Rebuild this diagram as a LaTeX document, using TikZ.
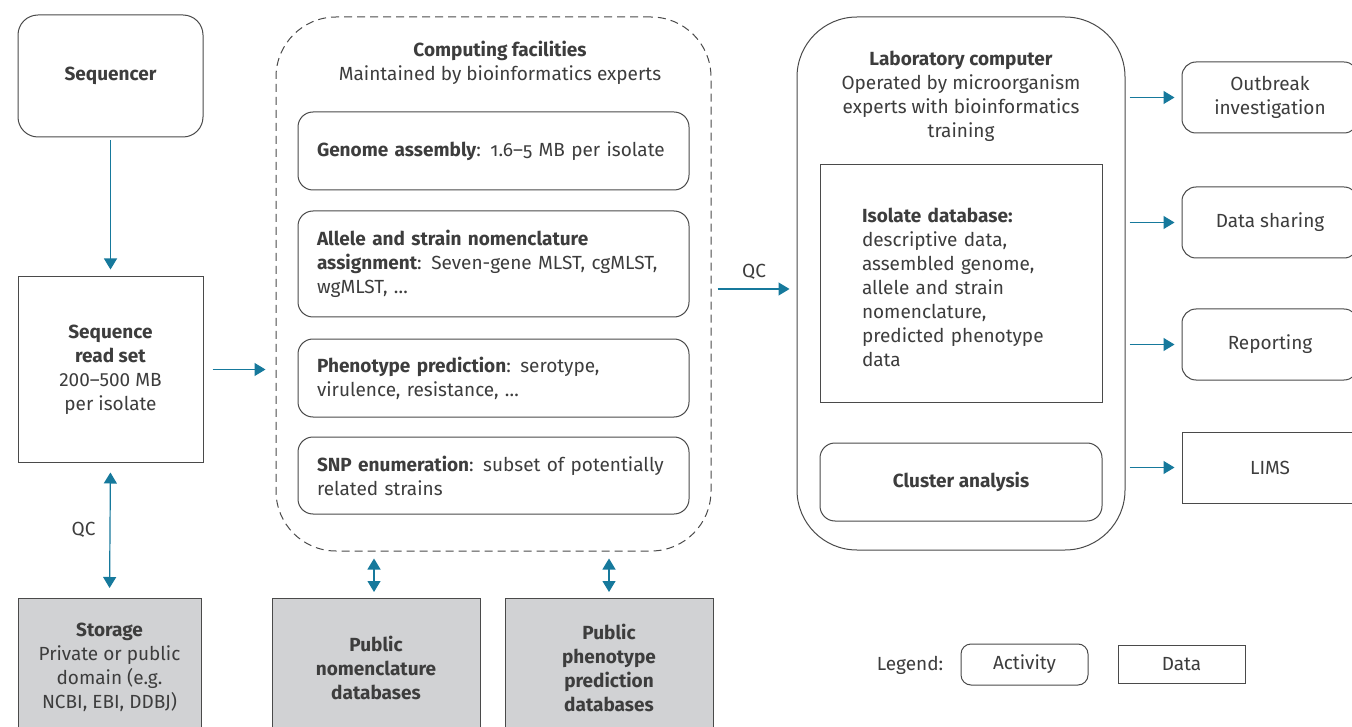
\documentclass[tikz,border=0pt]{standalone}
\usepackage{fontspec}
\setmainfont{Fira Sans}
\usetikzlibrary{arrows.meta}
\definecolor{txt}{HTML}{3D3D3D}
\definecolor{edge}{HTML}{4A4A4A}
\definecolor{arrowc}{HTML}{16799C}
\definecolor{pubgray}{HTML}{D1D2D4}
\tikzset{
  box/.style={draw=edge, line width=1pt, inner sep=0pt, align=center, text=txt},
  act/.style={box, rounded corners=15pt},
  dat/.style={box},
  pub/.style={box, fill=pubgray, font=\fontsize{19}{24}\selectfont\bfseries, minimum height=138pt, anchor=north},
  inner/.style={act, minimum width=391pt, minimum height=78pt, text width=353pt, align=left, inner xsep=19pt},
  outbox/.style={minimum width=176pt, minimum height=71pt},
  arr/.style={draw=arrowc, line width=1.2pt, -{Triangle[width=13pt,length=11pt]}},
  darr/.style={draw=arrowc, line width=1.2pt, {Triangle[width=13pt,length=11pt]}-{Triangle[width=13pt,length=11pt]}},
  lbl/.style={text=txt, inner sep=0pt, align=center}
}
\begin{document}
\begin{tikzpicture}[x=1pt,y=-1pt, font=\fontsize{19}{24}\selectfont]
\clip (0,0) rectangle (1352,727);
\fill[white] (0,0) rectangle (1352,727);

% left column
\node[act, rounded corners=20pt, minimum width=185pt, minimum height=122pt] (seq) at (110.5,76) {\textbf{Sequencer}};
\node[dat, minimum width=185pt, minimum height=185pt] (reads) at (110.5,369.5) {\textbf{Sequence}\\\textbf{read set}\\200–500 MB\\per isolate};
\node[pub, minimum width=183pt] (storage) at (109.5,598) {Storage\\\mdseries Private or public\\\mdseries domain (e.g.\\\mdseries NCBI, EBI, DDBJ)};

% computing facilities
\node[draw=edge, line width=1pt, dash pattern=on 8pt off 5pt, rounded corners=60pt, minimum width=435pt, minimum height=534pt, inner sep=0pt] (comp) at (493.5,284) {};
\node[lbl] (comptitle) at (500,63) {\textbf{Computing facilities}\\Maintained by bioinformatics experts};
\node[inner] (genome) at (493.5,151) {\textbf{Genome assembly}: {\addfontfeature{RawFeature=+onum}1.6–5} MB per isolate};
\node[inner, minimum height=106pt] (allele) at (493.5,264) {\textbf{Allele and strain nomenclature}\\\textbf{assignment}: Seven-gene MLST, cgMLST,\\wgMLST, …};
\node[inner] (pheno) at (493.5,378) {\textbf{Phenotype prediction}: serotype,\\virulence, resistance, …};
\node[inner, minimum height=77pt] (snp) at (493.5,475.5) {\textbf{SNP enumeration}: subset of potentially\\related strains};

\node[pub, minimum width=208pt] (pubnom) at (376,598) {Public\\nomenclature\\databases};
\node[pub, minimum width=208pt] (pubphe) at (609,598) {Public\\phenotype\\prediction\\databases};

% laboratory computer
\node[draw=edge, line width=1pt, rounded corners=60pt, minimum width=328pt, minimum height=533pt, inner sep=0pt] (lab) at (961,283.5) {};
\node[lbl] (labtitle) at (961,96) {\textbf{Laboratory computer}\\Operated by microorganism\\experts with bioinformatics\\training};
\node[dat, minimum width=282pt, minimum height=237pt] (isolate) at (961,283.5) {};
\node[lbl, text width=198pt, align=left] (isotext) at (961,287.5) {\textbf{Isolate database:}\\descriptive data,\\assembled genome,\\allele and strain\\nomenclature,\\predicted phenotype\\data};
\node[act, minimum width=282pt, minimum height=78pt] (cluster) at (961,482) {\textbf{Cluster analysis}};

% outputs
\node[act, outbox, rounded corners=14pt] (outbreak) at (1270,97.5) {Outbreak\\investigation};
\node[act, outbox, rounded corners=14pt] (share) at (1270,222.5) {Data sharing};
\node[act, outbox, rounded corners=14pt] (report) at (1270,344.5) {Reporting};
\node[dat, outbox] (lims) at (1270,467.5) {LIMS};

% legend
\node[lbl] (legend) at (910,665) {Legend:};
\node[act, rounded corners=10pt, minimum width=127pt, minimum height=41pt] (legact) at (1024.5,664.5) {Activity};
\node[dat, minimum width=127pt, minimum height=38pt] (legdat) at (1181.5,664) {Data};

% connectors
\draw[arr, shorten <=3pt, shorten >=7pt] (seq.south) -- (reads.north);
\draw[arr, shorten <=9pt, shorten >=10pt] (reads.east) -- (reads.east -| comp.west);
\draw[darr, shorten <=10pt, shorten >=10pt] (reads.south) -- node[lbl, left=14pt] (qc1) {QC} (storage.north);
\draw[darr, shorten <=7pt, shorten >=6pt] ([xshift=-2pt]pubnom.north |- comp.south) -- ([xshift=-2pt]pubnom.north);
\draw[darr, shorten <=7pt, shorten >=6pt] (pubphe.north |- comp.south) -- (pubphe.north);
\draw[arr, shorten <=6pt, shorten >=7pt] (comp.east |- 0,289) -- node[lbl, above=9pt] (qc2) {QC} (lab.west |- 0,289);
\foreach \t in {outbreak, share, report, lims}
  \draw[arr, shorten <=4pt, shorten >=7pt] (lab.east |- \t.west) -- (\t.west);
\end{tikzpicture}
\end{document}
